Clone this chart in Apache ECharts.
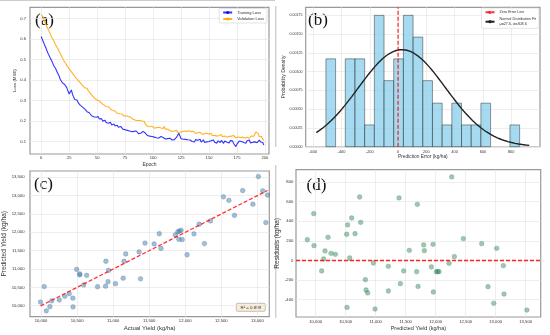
<!DOCTYPE html>
<html><head><meta charset="utf-8">
<script src="https://cdn.jsdelivr.net/npm/echarts@6/dist/echarts.min.js"></script>
<style>html,body{margin:0;padding:0;background:#fff}#c{width:550px;height:335px}</style>
</head><body><div id="c"></div>
<script>
// ---------- (a) training history ----------
const trainLoss = [
0.612,0.598,0.585,0.571,0.560,0.545,0.531,0.522,0.508,0.497,
0.486,0.472,0.468,0.455,0.441,0.432,0.420,0.404,0.398,0.386,
0.392,0.378,0.370,0.362,0.345,0.332,0.340,0.352,0.330,0.318,
0.305,0.298,0.303,0.290,0.282,0.277,0.286,0.268,0.271,0.258,
0.250,0.246,0.238,0.241,0.232,0.226,0.231,0.221,0.228,0.219,
0.216,0.222,0.210,0.205,0.212,0.200,0.197,0.204,0.193,0.196,
0.190,0.187,0.194,0.181,0.179,0.186,0.176,0.172,0.180,0.170,
0.168,0.174,0.165,0.161,0.168,0.158,0.163,0.155,0.160,0.152,
0.154,0.148,0.157,0.150,0.145,0.152,0.144,0.139,0.146,0.141,
0.143,0.150,0.155,0.142,0.136,0.130,0.133,0.127,0.131,0.125,
0.128,0.122,0.126,0.119,0.124,0.117,0.121,0.125,0.116,0.120,
0.118,0.113,0.120,0.115,0.111,0.117,0.112,0.108,0.115,0.110,
0.118,0.122,0.131,0.141,0.128,0.114,0.109,0.112,0.106,0.111,
0.104,0.109,0.102,0.108,0.113,0.101,0.106,0.099,0.110,0.104,
0.107,0.100,0.112,0.098,0.103,0.109,0.096,0.104,0.099,0.106,
0.101,0.094,0.105,0.099,0.108,0.097,0.102,0.093,0.104,0.100,
0.096,0.106,0.099,0.092,0.103,0.109,0.097,0.101,0.094,0.105,
0.099,0.104,0.091,0.085,0.076,0.088,0.097,0.103,0.095,0.101,
0.107,0.096,0.100,0.092,0.104,0.098,0.108,0.094,0.101,0.097,
0.103,0.099,0.106,0.095,0.101,0.108,0.098,0.104,0.096,0.084];
const valLoss = [
0.718,0.722,0.705,0.688,0.674,0.660,0.650,0.638,0.627,0.612,
0.603,0.594,0.586,0.571,0.563,0.552,0.540,0.529,0.518,0.506,
0.497,0.488,0.481,0.470,0.462,0.454,0.446,0.440,0.431,0.425,
0.419,0.410,0.403,0.398,0.391,0.386,0.378,0.373,0.366,0.362,
0.355,0.360,0.348,0.341,0.335,0.329,0.322,0.318,0.310,0.305,
0.302,0.297,0.299,0.290,0.286,0.282,0.279,0.276,0.271,0.268,
0.270,0.263,0.258,0.255,0.252,0.256,0.249,0.244,0.238,0.241,
0.236,0.232,0.235,0.228,0.225,0.221,0.226,0.218,0.222,0.215,
0.220,0.212,0.209,0.214,0.205,0.208,0.202,0.198,0.204,0.196,
0.201,0.195,0.199,0.186,0.180,0.175,0.182,0.173,0.170,0.176,
0.172,0.166,0.174,0.168,0.163,0.170,0.161,0.167,0.158,0.164,
0.175,0.160,0.155,0.162,0.157,0.153,0.159,0.150,0.156,0.152,
0.148,0.155,0.145,0.151,0.146,0.153,0.149,0.144,0.152,0.147,
0.150,0.144,0.153,0.146,0.149,0.142,0.151,0.145,0.140,0.147,
0.143,0.138,0.146,0.141,0.135,0.143,0.139,0.133,0.141,0.136,
0.138,0.132,0.140,0.129,0.135,0.131,0.138,0.127,0.133,0.130,
0.128,0.135,0.124,0.131,0.127,0.133,0.122,0.130,0.126,0.132,
0.127,0.121,0.130,0.124,0.119,0.128,0.123,0.131,0.120,0.126,
0.122,0.129,0.118,0.125,0.121,0.127,0.117,0.124,0.128,0.120,
0.126,0.135,0.148,0.155,0.139,0.124,0.118,0.125,0.112,0.106];
const epochTicks = [0,25,50,75,100,125,150,175,200];
const lossTicks = [0.1,0.2,0.3,0.4,0.5,0.6,0.7];

// ---------- (b) error histogram ----------
const binStart = -510;
const binWidth = 68.5;
const histDensity = [0.00117,0,0.00117,0.00117,0.00029,0.00175,0.00088,0.00117,0.00175,0.00146,
                     0.00088,0.00058,0.00029,0.00058,0.00029,0.00029,0.00058,0,0,0.00029];
const fitMu = 27.6, fitSigma = 308.6;
const fitRange = [-578, 928];
const errTicks = [-600,-400,-200,0,200,400,600,800];
const densTicks = [0,0.00025,0.0005,0.00075,0.001,0.00125,0.0015,0.00175];

// ---------- (c)/(d) yield ----------
const predicted = [9861,9967,9972,10100,10133,10156,10206,10256,10328,10517,
  10533,10522,10567,10600,10656,10733,10750,10828,10839,10867,
  10961,10989,11211,11211,11389,11411,11467,11561,11694,11683,
  11706,11800,11811,11928,11956,11961,12011,12033,12056,12267,
  12222,12311,12461,12767,12872,12967,13017,13128,13139,13520];
const actual = [10073,10444,10123,9993,10148,10253,10442,10329,10391,10784,
  10895,10044,10592,11033,10929,11380,11139,10632,10538,10536,
  10935,10494,11151,10900,12026,11175,11360,11664,12266,11569,
  11442,11958,11911,11862,12121,11640,11897,11919,11942,13118,
  12193,12350,12683,12938,12605,12530,13141,13075,12797,13015];
const r2Text = 'R² = 0.899';
const yieldTicksC = [10000,10500,11000,11500,12000,12500,13000];
const yieldTicksCy = [10000,10500,11000,11500,12000,12500,13000,13500];
const yieldTicksD = [10000,10500,11000,11500,12000,12500,13000,13500];
const residTicks = [-400,-200,0,200,400,600,800];

// ---------- derived tables ----------
const residuals = actual.map((a, i) => a - predicted[i]);
const histData = histDensity.map((d, i) => [binStart + i * binWidth, binStart + (i + 1) * binWidth, d]).filter(r => r[2] > 0);
const fitData = [];
for (let k = 0; k <= 120; k++) {
  const x = fitRange[0] + (fitRange[1] - fitRange[0]) * k / 120;
  fitData.push([x, Math.exp(-((x - fitMu) ** 2) / (2 * fitSigma ** 2)) / (fitSigma * Math.sqrt(2 * Math.PI))]);
}
const aMin = Math.min(...actual), aMax = Math.max(...actual);

const FONT = '"Liberation Sans", Arial, sans-serif';
const comma = v => Math.round(v).toLocaleString('en-US');

function axis(o) {
  return {
    type: 'value', gridIndex: o.grid, min: o.min, max: o.max,
    name: o.name, nameLocation: 'middle', nameGap: o.nameGap,
    nameTextStyle: {fontSize: o.nameSize, color: '#333', fontFamily: FONT},
    axisLine: {show: false},
    axisTick: {show: false, customValues: o.ticks},
    axisLabel: {customValues: o.ticks, formatter: o.fmt, fontSize: o.labelSize, color: '#333', margin: o.margin,
                fontFamily: FONT, showMinLabel: true, showMaxLabel: true, hideOverlap: false},
    splitLine: {show: true, lineStyle: {color: '#e6e6e6', width: 0.7}}
  };
}

const gridStyle = {show: true, borderColor: '#999', borderWidth: 1.2, backgroundColor: '#fff', containLabel: false, outerBoundsMode: 'none'};

const chart = echarts.init(document.getElementById('c'), null, {renderer: 'canvas'});
chart.setOption({
  animation: false,
  backgroundColor: '#fff',
  grid: [
    Object.assign({left: 30, top: 7.3, width: 239, height: 146.7}, gridStyle),
    Object.assign({left: 305.7, top: 7.3, width: 234.3, height: 139.4}, gridStyle),
    Object.assign({left: 30, top: 171, width: 239.3, height: 145.7}, gridStyle),
    Object.assign({left: 296, top: 169.7, width: 244.7, height: 147.3}, gridStyle)
  ],
  xAxis: [
    axis({grid: 0, min: -10, max: 203.6, ticks: epochTicks, fmt: v => String(v), name: 'Epoch', nameGap: 8, nameSize: 5, labelSize: 4.1, margin: 2.3}),
    axis({grid: 1, min: -653, max: 1004, ticks: errTicks, fmt: v => String(v), name: 'Prediction Error (kg/ha)', nameGap: 7.5, nameSize: 4.8, labelSize: 3.9, margin: 2.8}),
    axis({grid: 2, min: 9847, max: 13166, ticks: yieldTicksC, fmt: comma, name: 'Actual Yield (kg/ha)', nameGap: 8.5, nameSize: 6, labelSize: 4.2, margin: 2.3}),
    axis({grid: 3, min: 9672, max: 13750, ticks: yieldTicksD, fmt: comma, name: 'Predicted Yield (kg/ha)', nameGap: 8.2, nameSize: 5.5, labelSize: 4.2, margin: 2.5})
  ],
  yAxis: [
    axis({grid: 0, min: 0.04, max: 0.754, ticks: lossTicks, fmt: v => v.toFixed(1), name: 'Loss (MSE)', nameGap: 11.5, nameSize: 4.4, labelSize: 4.1, margin: 4}),
    axis({grid: 1, min: 0, max: 0.001857, ticks: densTicks, fmt: v => v.toFixed(5), name: 'Probability Density', nameGap: 20, nameSize: 5.2, labelSize: 3.6, margin: 3.2}),
    axis({grid: 2, min: 9700, max: 13672, ticks: yieldTicksCy, fmt: comma, name: 'Predicted Yield (kg/ha)', nameGap: 19.5, nameSize: 6.5, labelSize: 4.2, margin: 5.5}),
    axis({grid: 3, min: -576, max: 925, ticks: residTicks, fmt: v => String(v), name: 'Residuals (kg/ha)', nameGap: 14, nameSize: 6.5, labelSize: 4.2, margin: 2.7})
  ],
  legend: [
    {data: ['Training Loss', 'Validation Loss'], orient: 'vertical', right: 283, top: 8.5,
     itemWidth: 9, itemHeight: 4, itemGap: 2.5, padding: [2, 3, 2, 3],
     backgroundColor: 'rgba(255,255,255,0.9)', borderColor: '#d0d0d0', borderWidth: 0.6, borderRadius: 1,
     textStyle: {fontSize: 4, color: '#333', fontFamily: FONT}},
    {data: ['Zero Error Line', 'Normal Distribution Fit'], orient: 'vertical', right: 11, top: 8,
     itemWidth: 9, itemHeight: 4, itemGap: 2.5, padding: [2, 3, 2, 3],
     backgroundColor: 'rgba(255,255,255,0.9)', borderColor: '#d0d0d0', borderWidth: 0.6, borderRadius: 1,
     formatter: n => n === 'Normal Distribution Fit' ? n + '\nμ=' + fitMu + ', σ=' + fitSigma : n,
     textStyle: {fontSize: 3.7, lineHeight: 4.6, color: '#333', fontFamily: FONT}}
  ],
  series: [
    {name: 'Training Loss', type: 'line', xAxisIndex: 0, yAxisIndex: 0, symbol: 'none',
     data: trainLoss.map((v, i) => [i, v]), lineStyle: {color: 'rgba(0,0,255,0.8)', width: 1.1}, itemStyle: {color: 'rgba(0,0,255,0.8)'}},
    {name: 'Validation Loss', type: 'line', xAxisIndex: 0, yAxisIndex: 0, symbol: 'none',
     data: valLoss.map((v, i) => [i, v]), lineStyle: {color: 'rgba(255,165,0,0.85)', width: 1.1}, itemStyle: {color: 'rgba(255,165,0,0.85)'}},
    {name: 'Histogram', type: 'custom', xAxisIndex: 1, yAxisIndex: 1, data: histData,
     encode: {x: [0, 1], y: 2},
     renderItem: (params, api) => {
       const p0 = api.coord([api.value(0), 0]);
       const p1 = api.coord([api.value(1), api.value(2)]);
       return {type: 'rect', shape: {x: p0[0], y: p1[1], width: p1[0] - p0[0], height: p0[1] - p1[1]},
               style: {fill: 'rgba(135,206,235,0.75)', stroke: 'rgba(40,40,40,0.6)', lineWidth: 0.8}};
     }},
    {name: 'Normal Distribution Fit', type: 'line', xAxisIndex: 1, yAxisIndex: 1, symbol: 'none', z: 4,
     data: fitData, lineStyle: {color: '#222', width: 1.4}, itemStyle: {color: '#222'}},
    {name: 'Zero Error Line', type: 'line', xAxisIndex: 1, yAxisIndex: 1, symbol: 'none', z: 5,
     data: [[0, 0], [0, 0.001857]], lineStyle: {color: 'rgba(255,0,0,0.8)', width: 1.3, type: [4, 2]}, itemStyle: {color: 'rgba(255,0,0,0.8)'}},
    {name: 'Actual vs Predicted', type: 'scatter', xAxisIndex: 2, yAxisIndex: 2, symbolSize: 4.8,
     data: actual.map((a, i) => [a, predicted[i]]),
     itemStyle: {color: 'rgba(70,130,180,0.65)', borderColor: 'rgba(40,70,110,0.45)', borderWidth: 0.5}},
    {name: 'Perfect', type: 'line', xAxisIndex: 2, yAxisIndex: 2, symbol: 'none', z: 5,
     data: [[aMin, aMin], [aMax, aMax]], lineStyle: {color: 'rgba(255,0,0,0.8)', width: 1.3, type: [4, 2]}},
    {name: 'Residuals', type: 'scatter', xAxisIndex: 3, yAxisIndex: 3, symbolSize: 4.8,
     data: predicted.map((p, i) => [p, residuals[i]]),
     itemStyle: {color: 'rgba(46,139,87,0.6)', borderColor: 'rgba(30,90,60,0.4)', borderWidth: 0.5},
     markLine: {silent: true, symbol: 'none', label: {show: false},
       lineStyle: {color: 'rgba(255,0,0,0.85)', width: 1.3, type: [4, 2]}, data: [{yAxis: 0}]}}
  ],
  graphic: [
    {type: 'line', shape: {x1: 0, y1: 0.5, x2: 275, y2: 0.5}, style: {stroke: '#ccc', lineWidth: 1}},
    {type: 'line', shape: {x1: 275.8, y1: 6, x2: 275.8, y2: 147}, style: {stroke: '#bbb', lineWidth: 1}},
    {type: 'line', shape: {x1: 275.8, y1: 165, x2: 275.8, y2: 318}, style: {stroke: '#bbb', lineWidth: 1}},
    {type: 'text', left: 35, top: 12, style: {text: '(a)', font: '17px "Liberation Serif", serif', fill: '#111'}},
    {type: 'text', left: 308, top: 12, style: {text: '(b)', font: '17px "Liberation Serif", serif', fill: '#111'}},
    {type: 'text', left: 34, top: 176, style: {text: '(c)', font: '17px "Liberation Serif", serif', fill: '#111'}},
    {type: 'text', left: 306.5, top: 177, style: {text: '(d)', font: '17px "Liberation Serif", serif', fill: '#111'}},
    {type: 'group', left: 236, top: 303, children: [
      {type: 'rect', shape: {x: 0, y: 0, width: 29, height: 8, r: 1.5}, style: {fill: 'rgba(245,222,179,0.55)', stroke: '#999', lineWidth: 0.6}},
      {type: 'text', style: {x: 14.5, y: 4.2, text: r2Text, fontSize: 4.4, fontFamily: FONT, fill: '#333', align: 'center', verticalAlign: 'middle'}}
    ]}
  ]
});
</script></body></html>
